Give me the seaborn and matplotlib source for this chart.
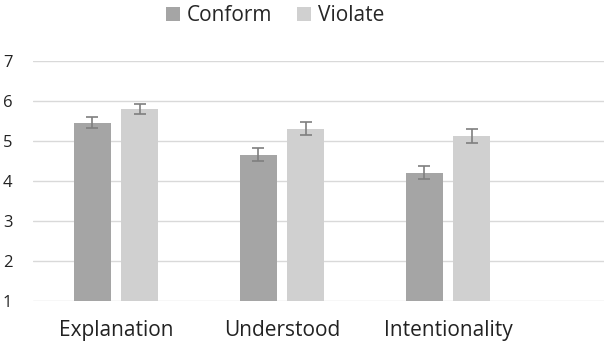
import numpy as np
import pandas as pd
import seaborn as sns
import matplotlib.pyplot as plt

categories = ["Explanation", "Understood", "Intentionality"]
conditions = ["Conform", "Violate"]
conform_means = [5.45, 4.65, 4.2]
violate_means = [5.8, 5.3, 5.12]
conform_err = [0.14, 0.16, 0.16]
violate_err = [0.13, 0.16, 0.17]

df = pd.DataFrame({
    "category": categories * 2,
    "condition": ["Conform"] * 3 + ["Violate"] * 3,
    "value": conform_means + violate_means,
    "err": conform_err + violate_err,
})

sns.set_style("white")
plt.rcParams["font.family"] = ["Open Sans", "DejaVu Sans"]

fig = plt.figure(figsize=(6.04, 3.54), dpi=100)
ax = fig.add_axes([0.055, 0.150, 0.945, 0.678])

palette = {"Conform": "#A5A5A5", "Violate": "#D0D0D0"}
sns.barplot(data=df, x="category", y="value", hue="condition",
            hue_order=conditions, order=categories, palette=palette,
            width=0.572, gap=0.22, errorbar=None, ax=ax, zorder=2,
            edgecolor="none", legend=True)

# error bars at bar centres
for cont, cond in zip(ax.containers, conditions):
    sub = df[df["condition"] == cond].set_index("category").loc[categories]
    xs = [p.get_x() + p.get_width() / 2 for p in cont.patches]
    ax.errorbar(xs, sub["value"], yerr=sub["err"], fmt="none",
                ecolor="#7F7F7F", elinewidth=1.2, capsize=4, capthick=1.2, zorder=3)

ax.set_ylim(1, 7)
ax.set_xlim(-0.5, 2.94)
ax.set_yticks(range(1, 8))
ax.yaxis.grid(True, color="#D9D9D9", linewidth=1)
ax.set_axisbelow(True)
for s in ax.spines.values():
    s.set_visible(False)
ax.set_xlabel("")
ax.set_ylabel("")
ax.tick_params(axis="y", labelsize=12, pad=15, length=0, labelcolor="#222222")
ax.tick_params(axis="x", labelsize=15, pad=14, length=0, labelcolor="#222222")

handles, labels = ax.get_legend_handles_labels()
ax.get_legend().remove()
fig.legend(handles, labels, loc="center", bbox_to_anchor=(0.455, 0.955), ncol=2,
           frameon=False, fontsize=15, handlelength=0.7, handleheight=0.7,
           handletextpad=0.3, columnspacing=1.2)

fig.savefig("out.png", dpi=100)
